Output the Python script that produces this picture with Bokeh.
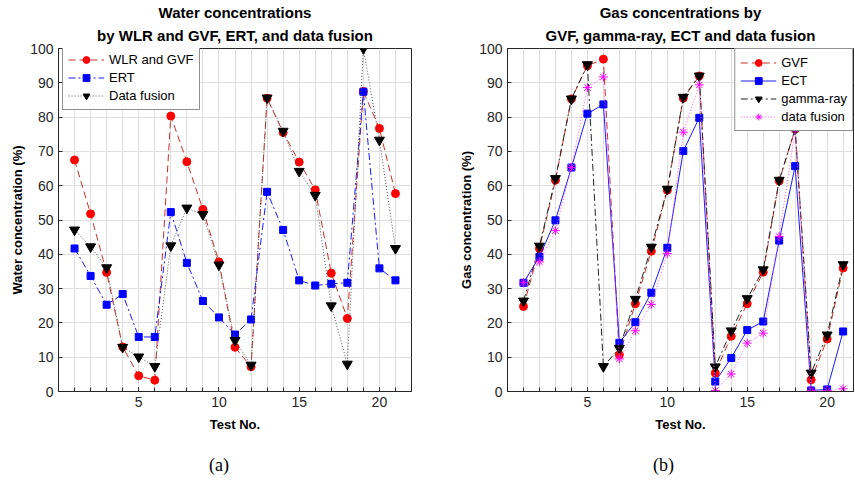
from bokeh.plotting import figure
from bokeh.models import Range1d, FixedTicker, Title, Legend, LegendItem, Div
from bokeh.layouts import row, column
from bokeh.embed import file_html
from bokeh.resources import INLINE

# ---------------- data ----------------
tests = list(range(1, 22))
x_tick_labels = [5, 10, 15, 20]
x_minor = list(range(0, 23))
y_ticks = list(range(0, 101, 10))

# (a) water concentrations
wlr_gvf = [67.5, 51.8, 34.7, 13.0, 4.6, 3.3, 80.3, 67.0, 53.1, 37.8, 12.9,
           7.2, 85.5, 75.5, 66.9, 58.8, 34.5, 21.3, 87.5, 76.7, 57.7]
ert = [41.7, 33.7, 25.3, 28.4, 15.9, 15.9, 52.3, 37.5, 26.4, 21.6, 16.6,
       21.0, 58.2, 47.1, 32.4, 30.9, 31.4, 31.7, 87.4, 35.9, 32.4]
fusion_a = [47.1, 42.2, 36.1, 12.9, 10.1, 7.3, 42.5, 53.5, 51.6, 36.9, 14.9,
            7.7, 85.6, 75.9, 64.2, 57.2, 25.0, 8.0, 100.0, 73.3, 41.7]

# (b) gas concentrations
gvf = [24.8, 41.7, 61.6, 85.3, 95.0, 96.9, 10.7, 25.6, 40.9, 58.7, 85.5,
       92.0, 5.4, 16.1, 25.6, 34.8, 61.4, 76.5, 3.4, 15.3, 36.0]
ect = [31.7, 39.3, 49.9, 65.3, 81.0, 83.7, 14.2, 20.2, 28.8, 41.9, 70.1,
       79.8, 2.9, 9.8, 17.9, 20.4, 44.0, 65.7, 0.3, 0.6, 17.5]
gamma = [26.4, 42.4, 62.1, 85.3, 95.3, 7.3, 12.6, 26.9, 42.1, 59.0, 85.8,
         92.0, 7.2, 17.7, 27.1, 35.5, 61.6, 76.5, 5.4, 16.5, 37.0]
fusion_b = [31.7, 37.8, 46.9, 65.3, 88.6, 91.7, 9.5, 17.7, 25.4, 40.2, 75.6,
            89.4, 0.3, 5.1, 14.1, 17.0, 45.2, 76.5, 0.3, 0.3, 0.8]

FONT = "Liberation Sans"
DARK = "#262626"
GRID = "#dedede"


def make_fig(width, x_end, mbl, mbr, line1, line2, ylabel):
    p = figure(width=width, height=440, x_range=Range1d(0, x_end),
               y_range=Range1d(0, 100), output_backend="svg",
               toolbar_location=None, min_border_left=mbl,
               min_border_right=mbr, min_border_top=48,
               min_border_bottom=49)
    p.background_fill_color = "white"
    p.border_fill_color = "white"
    p.outline_line_color = DARK
    p.outline_line_width = 1
    p.outline_line_alpha = 1

    # two-line title: default title is the outer line
    p.title.text = line1
    p.title.align = "center"
    p.title.text_font = FONT
    p.title.text_font_size = "15px"
    p.title.text_font_style = "bold"
    p.title.text_color = "black"
    p.title.standoff = 0
    t2 = Title(text=line2, align="center", text_font=FONT,
               text_font_size="15px", text_font_style="bold",
               text_color="black", standoff=9)
    p.add_layout(t2, "above")

    # bottom axis
    xa = p.xaxis[0]
    xa.ticker = FixedTicker(ticks=x_tick_labels, minor_ticks=x_minor)
    xa.axis_label = "Test No."
    xa.axis_label_text_font = FONT
    xa.axis_label_text_font_size = "13px"
    xa.axis_label_text_font_style = "bold"
    xa.axis_label_text_color = "black"
    xa.axis_label_standoff = 7

    # left axis
    ya = p.yaxis[0]
    ya.ticker = FixedTicker(ticks=y_ticks)
    ya.axis_label = ylabel
    ya.axis_label_text_font = FONT
    ya.axis_label_text_font_size = "13px"
    ya.axis_label_text_font_style = "bold"
    ya.axis_label_text_color = "black"
    ya.axis_label_standoff = 2

    for ax in (xa, ya):
        ax.major_label_text_font = FONT
        ax.major_label_text_font_size = "14px"
        ax.major_label_text_color = DARK
        ax.major_label_standoff = 5
        ax.major_tick_in = 4
        ax.major_tick_out = 0
        ax.minor_tick_in = 4
        ax.minor_tick_out = 0
        ax.minor_tick_line_color = DARK
        ax.major_tick_line_color = DARK
        ax.axis_line_color = DARK

    # grids
    p.xgrid.ticker = FixedTicker(ticks=x_minor)
    p.ygrid.ticker = FixedTicker(ticks=y_ticks)
    for g in (p.xgrid[0], p.ygrid[0]):
        g.grid_line_color = GRID
        g.grid_line_width = 1
    return p


def caption(text, width, pad_left):
    return Div(text=text, width=width, height=43, margin=0,
               styles={"font-family": "Liberation Serif", "font-size": "18px",
                       "line-height": "18px", "color": "black",
                       "padding-top": "16px", "padding-left": f"{pad_left}px",
                       "box-sizing": "border-box"})


def series(p, y, line_color, dash, marker, mcolor, size, fill=True):
    lr = p.line(tests, y, line_color=line_color, line_width=1, line_dash=dash)
    if fill:
        mr = p.scatter(tests, y, marker=marker, size=size, fill_color=mcolor,
                       line_color=mcolor)
    else:
        mr = p.scatter(tests, y, marker=marker, size=size, line_color=mcolor,
                       line_width=1)
    return [lr, mr]


def style_legend(lg):
    lg.border_line_color = DARK
    lg.border_line_width = 1
    lg.background_fill_color = "white"
    lg.background_fill_alpha = 1
    lg.label_text_font = FONT
    lg.label_text_font_size = "13px"
    lg.label_text_color = "black"
    lg.glyph_width = 36
    lg.glyph_height = 17
    lg.label_height = 17
    lg.label_standoff = 5
    lg.padding = 5
    lg.spacing = 1
    lg.margin = 0


# ---- (a)
p1 = make_fig(430, 22, 58, 19, "Water concentrations",
              "by WLR and GVF, ERT, and data fusion",
              "Water concentration (%)")
r_w = series(p1, wlr_gvf, "#c8302c", "7 4", "circle", "#ff0000", 8)
r_e = series(p1, ert, "#1a1aff", "7 3 2 3", "square", "#0000ff", 7)
r_f = series(p1, fusion_a, "#555555", "1 2", "inverted_triangle", "black", 10)
lg1 = Legend(items=[LegendItem(label="WLR and GVF", renderers=r_w),
                    LegendItem(label="ERT", renderers=r_e),
                    LegendItem(label="Data fusion", renderers=r_f)],
             location=(4, 281))
style_legend(lg1)
p1.add_layout(lg1)

# ---- (b)
p2 = make_fig(425, 21.65, 77, 2, "Gas concentrations by",
              "GVF, gamma-ray, ECT and data fusion",
              "Gas concentration (%)")
r_g = series(p2, gvf, "#c8302c", "7 4", "circle", "#ff0000", 8)
r_c = series(p2, ect, "#1a1aff", "solid", "square", "#0000ff", 7)
r_y = series(p2, gamma, "#222222", "7 3 2 3", "inverted_triangle", "black", 10)
r_d = series(p2, fusion_b, "#ff55ff", "1 2", "asterisk", "#ff00ff", 9, fill=False)
lg2 = Legend(items=[LegendItem(label="GVF", renderers=r_g),
                    LegendItem(label="ECT", renderers=r_c),
                    LegendItem(label="gamma-ray", renderers=r_y),
                    LegendItem(label="data fusion", renderers=r_d)],
             location="top_right")
style_legend(lg2)
p2.add_layout(lg2)

cap_a = caption("(a)", 430, 209)
cap_b = caption("(b)", 425, 223)

layout = column(row(p1, p2, spacing=0), row(cap_a, cap_b, spacing=0), spacing=0)
open("out.html", "w").write(file_html(layout, INLINE))
